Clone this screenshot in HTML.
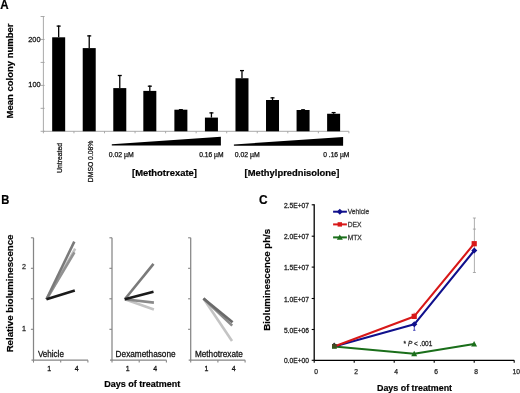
<!DOCTYPE html>
<html><head><meta charset="utf-8"><style>
html,body{margin:0;padding:0;background:#fff;width:520px;height:393px;overflow:hidden}
svg{display:block;will-change:transform}
text{font-family:"Liberation Sans", sans-serif}
</style></head><body>
<svg width="520" height="393" viewBox="0 0 520 393" font-family='"Liberation Sans", sans-serif'>
<text transform="translate(0.2,8.5) scale(1,1.1)" font-size="11.6" font-weight="bold" fill="#000" stroke="#000" stroke-width="0.2">A</text>
<line x1="43.40" y1="16.50" x2="43.40" y2="131.30" stroke="#a0a0a0" stroke-width="0.9"/>
<line x1="40.60" y1="131.30" x2="44.60" y2="131.30" stroke="#a0a0a0" stroke-width="0.9"/>
<line x1="40.60" y1="108.34" x2="44.60" y2="108.34" stroke="#a0a0a0" stroke-width="0.9"/>
<line x1="40.60" y1="85.38" x2="44.60" y2="85.38" stroke="#a0a0a0" stroke-width="0.9"/>
<line x1="40.60" y1="62.42" x2="44.60" y2="62.42" stroke="#a0a0a0" stroke-width="0.9"/>
<line x1="40.60" y1="39.46" x2="44.60" y2="39.46" stroke="#a0a0a0" stroke-width="0.9"/>
<line x1="40.60" y1="16.50" x2="44.60" y2="16.50" stroke="#a0a0a0" stroke-width="0.9"/>
<text transform="translate(40.5,42.06000000000001) scale(1,1.06)" font-size="7.4" text-anchor="end" fill="#111" stroke="#111" stroke-width="0.25">200</text>
<text transform="translate(40.7,86.68) scale(1,1.06)" font-size="7.4" text-anchor="end" fill="#111" stroke="#111" stroke-width="0.25">100</text>
<line x1="43.40" y1="131.30" x2="348.90" y2="131.30" stroke="#a0a0a0" stroke-width="0.9"/>
<line x1="43.40" y1="131.30" x2="43.40" y2="133.30" stroke="#a0a0a0" stroke-width="0.9"/>
<line x1="73.95" y1="131.30" x2="73.95" y2="133.30" stroke="#a0a0a0" stroke-width="0.9"/>
<line x1="104.50" y1="131.30" x2="104.50" y2="133.30" stroke="#a0a0a0" stroke-width="0.9"/>
<line x1="135.05" y1="131.30" x2="135.05" y2="133.30" stroke="#a0a0a0" stroke-width="0.9"/>
<line x1="165.60" y1="131.30" x2="165.60" y2="133.30" stroke="#a0a0a0" stroke-width="0.9"/>
<line x1="196.15" y1="131.30" x2="196.15" y2="133.30" stroke="#a0a0a0" stroke-width="0.9"/>
<line x1="226.70" y1="131.30" x2="226.70" y2="133.30" stroke="#a0a0a0" stroke-width="0.9"/>
<line x1="257.25" y1="131.30" x2="257.25" y2="133.30" stroke="#a0a0a0" stroke-width="0.9"/>
<line x1="287.80" y1="131.30" x2="287.80" y2="133.30" stroke="#a0a0a0" stroke-width="0.9"/>
<line x1="318.35" y1="131.30" x2="318.35" y2="133.30" stroke="#a0a0a0" stroke-width="0.9"/>
<line x1="348.90" y1="131.30" x2="348.90" y2="133.30" stroke="#a0a0a0" stroke-width="0.9"/>
<rect x="52.17" y="37.3" width="13" height="94.00" fill="#000"/>
<line x1="58.67" y1="25.50" x2="58.67" y2="37.30" stroke="#000" stroke-width="1.3"/>
<line x1="56.67" y1="26.10" x2="60.67" y2="26.10" stroke="#000" stroke-width="1.3"/>
<rect x="82.72" y="48.1" width="13" height="83.20" fill="#000"/>
<line x1="89.22" y1="35.30" x2="89.22" y2="48.10" stroke="#000" stroke-width="1.3"/>
<line x1="87.22" y1="35.90" x2="91.22" y2="35.90" stroke="#000" stroke-width="1.3"/>
<rect x="113.28" y="88.1" width="13" height="43.20" fill="#000"/>
<line x1="119.78" y1="74.90" x2="119.78" y2="88.10" stroke="#000" stroke-width="1.3"/>
<line x1="117.78" y1="75.50" x2="121.78" y2="75.50" stroke="#000" stroke-width="1.3"/>
<rect x="143.32" y="90.9" width="13" height="40.40" fill="#000"/>
<line x1="149.82" y1="85.60" x2="149.82" y2="90.90" stroke="#000" stroke-width="1.3"/>
<line x1="147.82" y1="86.20" x2="151.82" y2="86.20" stroke="#000" stroke-width="1.3"/>
<rect x="174.38" y="109.7" width="13" height="21.60" fill="#000"/>
<line x1="180.88" y1="109.10" x2="180.88" y2="109.70" stroke="#000" stroke-width="1.3"/>
<line x1="178.88" y1="109.70" x2="182.88" y2="109.70" stroke="#000" stroke-width="1.3"/>
<rect x="204.93" y="117.6" width="13" height="13.70" fill="#000"/>
<line x1="211.43" y1="112.30" x2="211.43" y2="117.60" stroke="#000" stroke-width="1.3"/>
<line x1="209.43" y1="112.90" x2="213.43" y2="112.90" stroke="#000" stroke-width="1.3"/>
<rect x="235.48" y="78.25" width="13" height="53.05" fill="#000"/>
<line x1="241.98" y1="70.00" x2="241.98" y2="78.25" stroke="#000" stroke-width="1.3"/>
<line x1="239.98" y1="70.60" x2="243.98" y2="70.60" stroke="#000" stroke-width="1.3"/>
<rect x="266.02" y="100" width="13" height="31.30" fill="#000"/>
<line x1="272.52" y1="97.25" x2="272.52" y2="100.00" stroke="#000" stroke-width="1.3"/>
<line x1="270.52" y1="97.85" x2="274.52" y2="97.85" stroke="#000" stroke-width="1.3"/>
<rect x="296.57" y="110" width="13" height="21.30" fill="#000"/>
<line x1="303.07" y1="109.25" x2="303.07" y2="110.00" stroke="#000" stroke-width="1.3"/>
<line x1="301.07" y1="109.85" x2="305.07" y2="109.85" stroke="#000" stroke-width="1.3"/>
<rect x="327.12" y="113.75" width="13" height="17.55" fill="#000"/>
<line x1="333.62" y1="112.00" x2="333.62" y2="113.75" stroke="#000" stroke-width="1.3"/>
<line x1="331.62" y1="112.60" x2="335.62" y2="112.60" stroke="#000" stroke-width="1.3"/>
<text transform="translate(13.2,71.0) rotate(-90)" font-size="9.5" text-anchor="middle" font-weight="bold" fill="#000" stroke="#000" stroke-width="0.2">Mean colony number</text>
<text transform="translate(61.5,158) rotate(-90)" font-size="6.83" text-anchor="middle" fill="#111" stroke="#111" stroke-width="0.25">Untreated</text>
<text transform="translate(92.5,161.4) rotate(-90)" font-size="6.81" text-anchor="middle" fill="#111" stroke="#111" stroke-width="0.25">DMSO 0.08%</text>
<polygon points="111.8,144.3 220.9,136.7 220.9,145.6 111.8,145.6" fill="#000"/>
<polygon points="233.9,144.5 343.1,137.0 343.1,145.7 233.9,145.7" fill="#000"/>
<text transform="translate(108.7,157.2) scale(1,1.0)" font-size="6.88" fill="#111" stroke="#111" stroke-width="0.25">0.02 µM</text>
<text transform="translate(199.2,157.2) scale(1,1.0)" font-size="6.69" fill="#111" stroke="#111" stroke-width="0.25">0.16 µM</text>
<text transform="translate(234.8,157.2) scale(1,1.0)" font-size="6.88" fill="#111" stroke="#111" stroke-width="0.25">0.02 µM</text>
<text transform="translate(323.2,157.2) scale(1,1.0)" font-size="6.69" fill="#111" stroke="#111" stroke-width="0.25">0 .16 µM</text>
<text transform="translate(132,176.2) scale(1,1.0)" font-size="9.44" font-weight="bold" fill="#000" stroke="#000" stroke-width="0.2">[Methotrexate]</text>
<text transform="translate(244.6,175.9) scale(1,1.0)" font-size="9.4" font-weight="bold" fill="#000" stroke="#000" stroke-width="0.2">[Methylprednisolone]</text>
<text transform="translate(1.3,204.3) scale(1,1.14)" font-size="11.2" font-weight="bold" fill="#000" stroke="#000" stroke-width="0.2">B</text>
<text transform="translate(13.0,293.5) rotate(-90)" font-size="9.65" text-anchor="middle" font-weight="bold" fill="#000" stroke="#000" stroke-width="0.2">Relative bioluminescence</text>
<line x1="33.50" y1="237.80" x2="33.50" y2="360.20" stroke="#858585" stroke-width="1.25"/>
<line x1="30.90" y1="237.80" x2="33.50" y2="237.80" stroke="#858585" stroke-width="1.1"/>
<line x1="30.90" y1="268.30" x2="33.50" y2="268.30" stroke="#858585" stroke-width="1.1"/>
<line x1="30.90" y1="298.80" x2="33.50" y2="298.80" stroke="#858585" stroke-width="1.1"/>
<line x1="30.90" y1="329.30" x2="33.50" y2="329.30" stroke="#858585" stroke-width="1.1"/>
<line x1="31.50" y1="360.20" x2="88.00" y2="360.20" stroke="#858585" stroke-width="1.25"/>
<line x1="33.50" y1="360.20" x2="33.50" y2="362.60" stroke="#858585" stroke-width="1.1"/>
<line x1="60.70" y1="360.20" x2="60.70" y2="362.60" stroke="#858585" stroke-width="1.1"/>
<line x1="87.90" y1="360.20" x2="87.90" y2="362.60" stroke="#858585" stroke-width="1.1"/>
<text transform="translate(37.9,356.8) scale(1,1.1)" font-size="8.06" fill="#111" stroke="#111" stroke-width="0.25">Vehicle</text>
<text transform="translate(49.3,371.4) scale(1,1.1)" font-size="7" text-anchor="middle" fill="#111" stroke="#111" stroke-width="0.25">1</text>
<text transform="translate(76.6,371.4) scale(1,1.1)" font-size="7" text-anchor="middle" fill="#111" stroke="#111" stroke-width="0.25">4</text>
<line x1="112.00" y1="237.80" x2="112.00" y2="360.20" stroke="#858585" stroke-width="1.25"/>
<line x1="109.40" y1="237.80" x2="112.00" y2="237.80" stroke="#858585" stroke-width="1.1"/>
<line x1="109.40" y1="268.30" x2="112.00" y2="268.30" stroke="#858585" stroke-width="1.1"/>
<line x1="109.40" y1="298.80" x2="112.00" y2="298.80" stroke="#858585" stroke-width="1.1"/>
<line x1="109.40" y1="329.30" x2="112.00" y2="329.30" stroke="#858585" stroke-width="1.1"/>
<line x1="110.00" y1="360.20" x2="166.50" y2="360.20" stroke="#858585" stroke-width="1.25"/>
<line x1="112.00" y1="360.20" x2="112.00" y2="362.60" stroke="#858585" stroke-width="1.1"/>
<line x1="139.20" y1="360.20" x2="139.20" y2="362.60" stroke="#858585" stroke-width="1.1"/>
<line x1="166.40" y1="360.20" x2="166.40" y2="362.60" stroke="#858585" stroke-width="1.1"/>
<text transform="translate(115.6,356.8) scale(1,1.1)" font-size="8.24" fill="#111" stroke="#111" stroke-width="0.25">Dexamethasone</text>
<text transform="translate(127.8,371.4) scale(1,1.1)" font-size="7" text-anchor="middle" fill="#111" stroke="#111" stroke-width="0.25">1</text>
<text transform="translate(155.1,371.4) scale(1,1.1)" font-size="7" text-anchor="middle" fill="#111" stroke="#111" stroke-width="0.25">4</text>
<line x1="190.70" y1="237.80" x2="190.70" y2="360.20" stroke="#858585" stroke-width="1.25"/>
<line x1="188.10" y1="237.80" x2="190.70" y2="237.80" stroke="#858585" stroke-width="1.1"/>
<line x1="188.10" y1="268.30" x2="190.70" y2="268.30" stroke="#858585" stroke-width="1.1"/>
<line x1="188.10" y1="298.80" x2="190.70" y2="298.80" stroke="#858585" stroke-width="1.1"/>
<line x1="188.10" y1="329.30" x2="190.70" y2="329.30" stroke="#858585" stroke-width="1.1"/>
<line x1="188.70" y1="360.20" x2="245.20" y2="360.20" stroke="#858585" stroke-width="1.25"/>
<line x1="190.70" y1="360.20" x2="190.70" y2="362.60" stroke="#858585" stroke-width="1.1"/>
<line x1="217.90" y1="360.20" x2="217.90" y2="362.60" stroke="#858585" stroke-width="1.1"/>
<line x1="245.10" y1="360.20" x2="245.10" y2="362.60" stroke="#858585" stroke-width="1.1"/>
<text transform="translate(194.9,356.8) scale(1,1.1)" font-size="8.22" fill="#111" stroke="#111" stroke-width="0.25">Methotrexate</text>
<text transform="translate(206.5,371.4) scale(1,1.1)" font-size="7" text-anchor="middle" fill="#111" stroke="#111" stroke-width="0.25">1</text>
<text transform="translate(233.79999999999998,371.4) scale(1,1.1)" font-size="7" text-anchor="middle" fill="#111" stroke="#111" stroke-width="0.25">4</text>
<text transform="translate(24,269.2) scale(1,1.1)" font-size="7.2" text-anchor="middle" fill="#333" stroke="#333" stroke-width="0.25">2</text>
<text transform="translate(24,330.6) scale(1,1.1)" font-size="7.2" text-anchor="middle" fill="#222" stroke="#222" stroke-width="0.25">1</text>
<line x1="46.50" y1="299.30" x2="75.20" y2="248.70" stroke="#c4c4c4" stroke-width="2.6"/>
<line x1="46.50" y1="299.30" x2="74.40" y2="252.40" stroke="#929292" stroke-width="2.6"/>
<line x1="46.50" y1="299.30" x2="74.30" y2="241.60" stroke="#7a7a7a" stroke-width="2.6"/>
<line x1="46.50" y1="299.30" x2="74.80" y2="290.60" stroke="#1a1a1a" stroke-width="2.6"/>
<line x1="124.80" y1="299.20" x2="153.90" y2="309.50" stroke="#c4c4c4" stroke-width="2.6"/>
<line x1="124.80" y1="299.20" x2="153.90" y2="302.60" stroke="#8a8a8a" stroke-width="2.6"/>
<line x1="124.80" y1="299.20" x2="153.50" y2="263.90" stroke="#7a7a7a" stroke-width="2.6"/>
<line x1="124.80" y1="299.20" x2="153.50" y2="291.80" stroke="#1a1a1a" stroke-width="2.6"/>
<line x1="203.50" y1="298.50" x2="232.00" y2="341.00" stroke="#c4c4c4" stroke-width="2.6"/>
<line x1="203.50" y1="298.50" x2="232.20" y2="325.60" stroke="#8a8a8a" stroke-width="2.6"/>
<line x1="203.50" y1="298.50" x2="232.60" y2="322.20" stroke="#6a6a6a" stroke-width="2.6"/>
<text transform="translate(104.2,386.8) scale(1,1.05)" font-size="9" font-weight="bold" fill="#000" stroke="#000" stroke-width="0.2">Days of treatment</text>
<text transform="translate(258.9,203.9) scale(1,1.05)" font-size="11.9" font-weight="bold" fill="#000" stroke="#000" stroke-width="0.2">C</text>
<text transform="translate(270.1,279.8) rotate(-90)" font-size="9.67" text-anchor="middle" font-weight="bold" fill="#000" stroke="#000" stroke-width="0.2">Bioluminescence ph/s</text>
<line x1="314.20" y1="204.30" x2="314.20" y2="360.30" stroke="#000" stroke-width="1.3"/>
<line x1="314.20" y1="360.30" x2="514.20" y2="360.30" stroke="#000" stroke-width="1.3"/>
<line x1="311.70" y1="360.30" x2="314.20" y2="360.30" stroke="#000" stroke-width="1.1"/>
<text transform="translate(309,363.3) scale(1,1.05)" font-size="6.7" text-anchor="end" fill="#1a1a1a" stroke="#1a1a1a" stroke-width="0.25">0.0E+00</text>
<line x1="311.70" y1="329.50" x2="314.20" y2="329.50" stroke="#000" stroke-width="1.1"/>
<text transform="translate(309,332.5) scale(1,1.05)" font-size="6.7" text-anchor="end" fill="#1a1a1a" stroke="#1a1a1a" stroke-width="0.25">5.0E+06</text>
<line x1="311.70" y1="298.50" x2="314.20" y2="298.50" stroke="#000" stroke-width="1.1"/>
<text transform="translate(309,301.5) scale(1,1.05)" font-size="6.7" text-anchor="end" fill="#1a1a1a" stroke="#1a1a1a" stroke-width="0.25">1.0E+07</text>
<line x1="311.70" y1="267.10" x2="314.20" y2="267.10" stroke="#000" stroke-width="1.1"/>
<text transform="translate(309,270.1) scale(1,1.05)" font-size="6.7" text-anchor="end" fill="#1a1a1a" stroke="#1a1a1a" stroke-width="0.25">1.5E+07</text>
<line x1="311.70" y1="236.20" x2="314.20" y2="236.20" stroke="#000" stroke-width="1.1"/>
<text transform="translate(309,239.2) scale(1,1.05)" font-size="6.7" text-anchor="end" fill="#1a1a1a" stroke="#1a1a1a" stroke-width="0.25">2.0E+07</text>
<line x1="311.70" y1="204.80" x2="314.20" y2="204.80" stroke="#000" stroke-width="1.1"/>
<text transform="translate(309,207.8) scale(1,1.05)" font-size="6.7" text-anchor="end" fill="#1a1a1a" stroke="#1a1a1a" stroke-width="0.25">2.5E+07</text>
<line x1="314.20" y1="360.30" x2="314.20" y2="362.80" stroke="#000" stroke-width="1.1"/>
<text transform="translate(316.2,374) scale(1,1.0)" font-size="6.7" text-anchor="middle" fill="#222" stroke="#222" stroke-width="0.25">0</text>
<line x1="354.20" y1="360.30" x2="354.20" y2="362.80" stroke="#000" stroke-width="1.1"/>
<text transform="translate(356.2,374) scale(1,1.0)" font-size="6.7" text-anchor="middle" fill="#222" stroke="#222" stroke-width="0.25">2</text>
<line x1="394.20" y1="360.30" x2="394.20" y2="362.80" stroke="#000" stroke-width="1.1"/>
<text transform="translate(396.2,374) scale(1,1.0)" font-size="6.7" text-anchor="middle" fill="#222" stroke="#222" stroke-width="0.25">4</text>
<line x1="434.20" y1="360.30" x2="434.20" y2="362.80" stroke="#000" stroke-width="1.1"/>
<text transform="translate(436.2,374) scale(1,1.0)" font-size="6.7" text-anchor="middle" fill="#222" stroke="#222" stroke-width="0.25">6</text>
<line x1="474.20" y1="360.30" x2="474.20" y2="362.80" stroke="#000" stroke-width="1.1"/>
<text transform="translate(476.2,374) scale(1,1.0)" font-size="6.7" text-anchor="middle" fill="#222" stroke="#222" stroke-width="0.25">8</text>
<line x1="514.20" y1="360.30" x2="514.20" y2="362.80" stroke="#000" stroke-width="1.1"/>
<text transform="translate(516.2,374) scale(1,1.0)" font-size="6.7" text-anchor="middle" fill="#222" stroke="#222" stroke-width="0.25">10</text>
<text transform="translate(377,390.7) scale(1,1.05)" font-size="8.9" font-weight="bold" fill="#000" stroke="#000" stroke-width="0.2">Days of treatment</text>
<line x1="474.40" y1="218.00" x2="474.40" y2="272.50" stroke="#999" stroke-width="0.8"/>
<line x1="472.90" y1="218.00" x2="475.90" y2="218.00" stroke="#999" stroke-width="0.8"/>
<line x1="472.90" y1="229.10" x2="475.90" y2="229.10" stroke="#999" stroke-width="0.8"/>
<line x1="472.90" y1="272.50" x2="475.90" y2="272.50" stroke="#999" stroke-width="0.8"/>
<line x1="414.30" y1="324.30" x2="414.30" y2="330.30" stroke="#2222aa" stroke-width="0.8"/>
<line x1="413.10" y1="330.30" x2="415.50" y2="330.30" stroke="#2222aa" stroke-width="0.8"/>
<line x1="414.20" y1="312.70" x2="414.20" y2="316.40" stroke="#cc3333" stroke-width="0.8"/>
<polyline points="334.2,346.5 414.2,353.8 474.1,344.0" fill="none" stroke="#1a6e1a" stroke-width="2.1" stroke-linejoin="round"/>
<polyline points="334.2,346.5 414.3,324.3 474.3,250.5" fill="none" stroke="#10108c" stroke-width="2.1" stroke-linejoin="round"/>
<polyline points="334.2,346.5 414.2,316.4 474.2,243.7" fill="none" stroke="#d81818" stroke-width="2.1" stroke-linejoin="round"/>
<polygon points="414.3,321.3 417.3,324.3 414.3,327.3 411.3,324.3" fill="#10108c"/>
<polygon points="474.3,247.5 477.3,250.5 474.3,253.5 471.3,250.5" fill="#10108c"/>
<rect x="411.59999999999997" y="313.79999999999995" width="5.2" height="5.2" fill="#d81818"/>
<rect x="471.59999999999997" y="241.1" width="5.2" height="5.2" fill="#d81818"/>
<polygon points="414.2,350.8 417.2,356.2 411.2,356.2" fill="#1a6e1a"/>
<polygon points="474.1,341.0 477.1,346.4 471.1,346.4" fill="#1a6e1a"/>
<defs><linearGradient id="og" x1="0" y1="0" x2="0" y2="1"><stop offset="0" stop-color="#4f4620"/><stop offset="1" stop-color="#2c5a1c"/></linearGradient></defs>
<rect x="332.0" y="344" width="4.8" height="4.8" fill="url(#og)"/>
<polygon points="334.2,342.4 335.9,344.2 332.5,344.2" fill="#333"/>
<line x1="333.10" y1="211.70" x2="346.90" y2="211.70" stroke="#10108c" stroke-width="2.0"/>
<polygon points="339.8,208.7 342.8,211.7 339.8,214.7 336.8,211.7" fill="#10108c"/>
<text transform="translate(347.7,214.29999999999998) scale(1,1.05)" font-size="6.7" fill="#3a3a3a" stroke="#3a3a3a" stroke-width="0.25">Vehicle</text>
<line x1="333.10" y1="224.40" x2="346.90" y2="224.40" stroke="#d81818" stroke-width="2.0"/>
<rect x="337.6" y="222.20000000000002" width="4.4" height="4.4" fill="#d81818"/>
<text transform="translate(347.7,227.0) scale(1,1.05)" font-size="6.7" fill="#3a3a3a" stroke="#3a3a3a" stroke-width="0.25">DEX</text>
<line x1="333.10" y1="237.40" x2="346.90" y2="237.40" stroke="#1a6e1a" stroke-width="2.0"/>
<polygon points="339.8,234.4 342.8,239.8 336.8,239.8" fill="#1a6e1a"/>
<text transform="translate(347.7,240.0) scale(1,1.05)" font-size="6.7" fill="#3a3a3a" stroke="#3a3a3a" stroke-width="0.25">MTX</text>
<text transform="translate(403.6,346.1) scale(1,1.05)" font-size="6.5" fill="#222" stroke="#222" stroke-width="0.25">* <tspan font-style="italic">P</tspan> &lt; .001</text>
</svg>
</body></html>
